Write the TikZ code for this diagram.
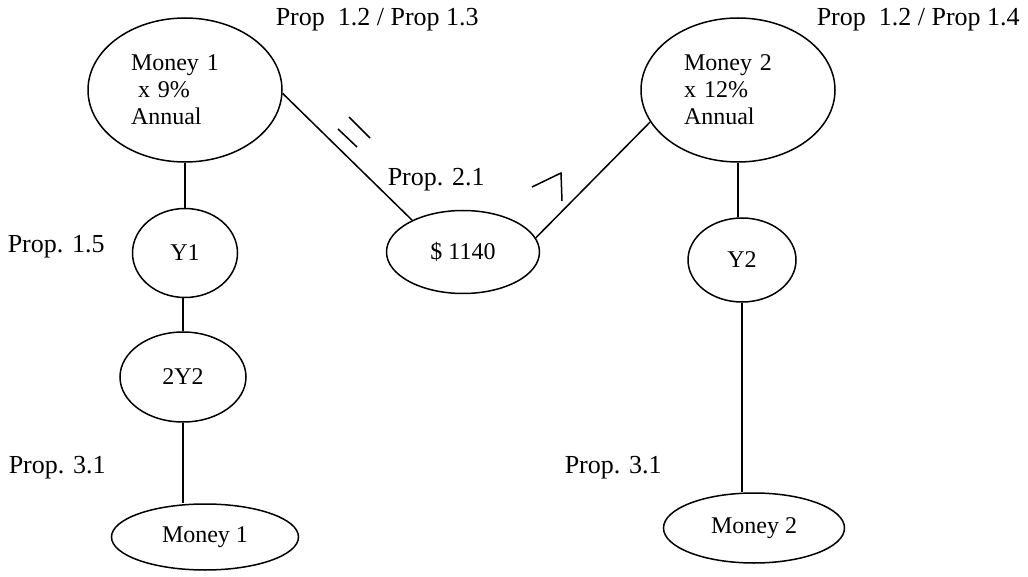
\documentclass[tikz,border=0pt]{standalone}
\usepackage{fontspec}
\setmainfont{Liberation Serif}
\usetikzlibrary{shapes.geometric}
\begin{document}
\begin{tikzpicture}[x=0.5pt, y=-0.5pt, line width=0.75pt,
  oval/.style={draw, ellipse, inner sep=0pt, font=\fontsize{12}{13.5}\selectfont},
  prop/.style={anchor=west, inner sep=0pt, font=\fontsize{13}{15}\selectfont}]
\useasboundingbox (0,0) rectangle (1028,577);
% ovals
\node[oval, minimum width=97pt, minimum height=72pt, text width=54pt, align=left] (money1) at (185,90) {Money 1\\\hspace*{3.5pt}x 9\%\\Annual};
\node[oval, minimum width=97pt, minimum height=72pt, text width=54pt, align=left] (money2) at (738,90) {Money 2\\x 12\%\\Annual};
\node[oval, minimum width=52.5pt, minimum height=44.5pt] (y1) at (185,253) {Y1};
\node[oval, minimum width=63pt, minimum height=45pt] (twoy2) at (183,377) {2Y2};
\node[oval, minimum width=76.5pt, minimum height=41.5pt] (dollar) at (463,252) {\$ 1140};
\node[oval, minimum width=54pt, minimum height=42pt] (y2) at (742,260) {Y2};
\node[oval, minimum width=93.5pt, minimum height=33pt] (moneyA) at (205,537) {Money 1};
\node[oval, minimum width=90.5pt, minimum height=35pt] (moneyB) at (754,528) {Money 2};
% links
\draw (money1.south) -- (y1.north);
\draw (twoy2.north |- y1.south) -- (twoy2.north);
\draw (twoy2.south) -- (twoy2.south |- moneyA.north);
\draw (money1.-2) -- (dollar.148);
\draw (money2.200) -- (dollar.11);
\draw (money2.south) -- (money2.south |- y2.north);
\draw (y2.south) -- (y2.south |- moneyB.north);
% marks
\draw (338,129) -- (357,147);
\draw (349,117) -- (370,138);
\draw (532,187) -- (561,173) -- (562,201);
% labels
\node[prop] (p12a) at (275,20) {Prop\ \ 1.2 / Prop 1.3};
\node[prop] (p12b) at (816,20) {Prop\ \ 1.2 / Prop 1.4};
\node[prop] (p15) at (7,247) {Prop. 1.5};
\node[prop] (p21) at (387,180) {Prop. 2.1};
\node[prop] (p31a) at (8,468) {Prop. 3.1};
\node[prop] (p31b) at (564,468) {Prop. 3.1};
\end{tikzpicture}
\end{document}
